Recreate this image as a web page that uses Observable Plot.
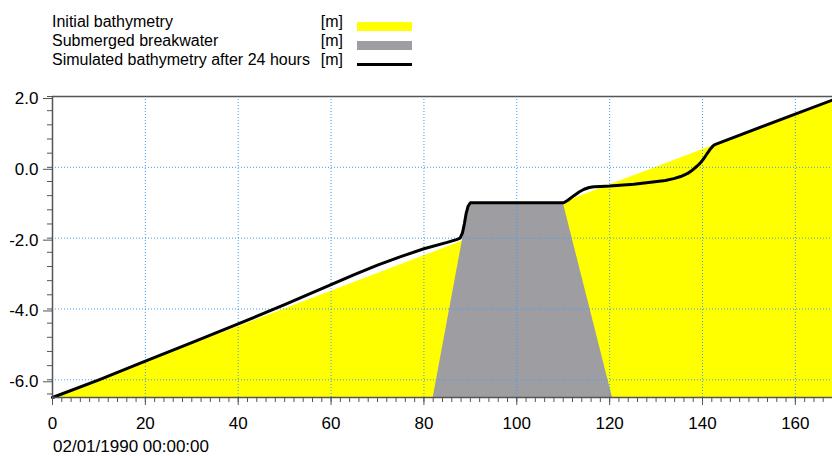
<!DOCTYPE html>
<html>
<head>
<meta charset="utf-8">
<script src="https://cdn.jsdelivr.net/npm/d3@7"></script>
<script src="https://cdn.jsdelivr.net/npm/@observablehq/plot@0.6"></script>
<style>
  html, body { margin: 0; padding: 0; background: #fff; }
  body { width: 832px; height: 456px; position: relative; overflow: hidden;
         font-family: "Liberation Sans", Arial, sans-serif; color: #000; }
  .leg { position: absolute; left: 0; top: 0; width: 832px; height: 80px; }
  .row { position: absolute; left: 0; height: 20px; width: 832px; font-size: 16px; line-height: 20px; }
  .lab { position: absolute; left: 52px; top: 0; white-space: nowrap; }
  .unit { position: absolute; right: calc(832px - 343px); top: 0; white-space: nowrap; }
  .sw { position: absolute; left: 357px; width: 55px; }
  #chart { position: absolute; left: 0; top: 80px; }
  #date { position: absolute; left: 53px; top: 438.5px; height: 15px; font-size: 17px; line-height: 15px; white-space: nowrap; }
</style>
</head>
<body>
<div class="leg" id="legend"></div>
<div id="chart"></div>
<div id="date"></div>
<script>
// ---- data ----
const legendLabels = ["Initial bathymetry", "Submerged breakwater", "Simulated bathymetry after 24 hours"];
const legendUnits = ["[m]", "[m]", "[m]"];
const dateLabel = "02/01/1990 00:00:00";

const xTickValues = [0, 20, 40, 60, 80, 100, 120, 140, 160];
const yTickValues = [-6, -4, -2, 0, 2];
const xDomain = [0, 168];
const yDomain = [-6.5, 2.0];

// initial bathymetry (distance [m], level [m])
const initialX = [0, 168];
const initialZ = [-6.5, 1.9];

// submerged breakwater outline
const breakwaterX = [82, 89.8, 110, 120.6];
const breakwaterZ = [-6.5, -1.0, -1.0, -6.5];

// simulated bathymetry after 24 hours
const simX = [0, 10, 20, 30, 40, 50, 60, 65, 70, 75, 80, 85, 87, 87.8, 88.3, 88.7, 89.1, 89.5, 90.0,
  110.1, 111, 112.3, 113.5, 114.5, 115.6, 116.6, 118, 120, 125.2, 130.2, 132, 133.8, 135.3, 136.7, 137.8,
  138.8, 139.5, 140.3, 141, 141.7, 142.3, 142.8, 168];
const simZ = [-6.5, -6.0, -5.47, -4.95, -4.42, -3.88, -3.31, -3.03, -2.76, -2.52, -2.30, -2.12, -2.04, -2.0, -1.85, -1.6, -1.3, -1.1, -1.0,
  -1.0, -0.93, -0.8, -0.69, -0.62, -0.57, -0.55, -0.54, -0.53, -0.48, -0.40, -0.37, -0.32, -0.26, -0.18, -0.08,
  0.03, 0.12, 0.25, 0.39, 0.52, 0.61, 0.65, 1.9];

// ---- legend ----
const swatches = [
  {bg: "#ffff00", top: 10, h: 9},
  {bg: "#9e9da2", top: 10, h: 9},
  {bg: "#000000", top: 12.8, h: 3}
];
const rowTops = [11.5, 31, 50];
const leg = document.getElementById("legend");
legendLabels.forEach((t, i) => {
  const r = document.createElement("div");
  r.className = "row";
  r.style.top = rowTops[i] + "px";
  const a = document.createElement("span"); a.className = "lab"; a.textContent = t;
  const u = document.createElement("span"); u.className = "unit"; u.textContent = legendUnits[i];
  const s = document.createElement("div"); s.className = "sw";
  s.style.background = swatches[i].bg; s.style.top = swatches[i].top + "px"; s.style.height = swatches[i].h + "px";
  r.append(a, u, s);
  leg.appendChild(r);
});
document.getElementById("date").textContent = dateLabel;

// ---- tables ----
const initial = initialX.map((x, i) => ({x, z: initialZ[i], base: yDomain[0]}));
const breakwater = breakwaterX.map((x, i) => ({x, z: breakwaterZ[i], base: yDomain[0]}));
const sim = simX.map((x, i) => ({x, z: simZ[i]}));
const xMinor = d3.range(xDomain[0], xDomain[1] + 0.001, 2);
const yMinor = d3.range(yDomain[1], yDomain[0] - 0.001, -0.4).map(v => +v.toFixed(1));

const axisColor = "#555";
const gridColor = "#3d9df5";

const chart = Plot.plot({
  width: 832,
  height: 356,
  marginTop: 16,
  marginBottom: 39,
  marginLeft: 52,
  marginRight: 0,
  style: {fontFamily: '"Liberation Sans", Arial, sans-serif', fontSize: "17px", background: "white", color: "black", overflow: "visible"},
  x: {domain: xDomain, label: null},
  y: {domain: yDomain, label: null},
  marks: [
    Plot.areaY(initial, {x: "x", y1: "base", y2: "z", fill: "#ffff00"}),
    Plot.areaY(breakwater, {x: "x", y1: "base", y2: "z", fill: "#9e9da2"}),
    Plot.gridX(xTickValues.filter(v => v > xDomain[0]), {stroke: gridColor, strokeOpacity: 1, strokeWidth: 1, strokeDasharray: "1,2"}),
    Plot.gridY(yTickValues.filter(v => v < yDomain[1]), {stroke: gridColor, strokeOpacity: 1, strokeWidth: 1, strokeDasharray: "1,2"}),
    Plot.line(sim, {x: "x", y: "z", stroke: "#000", strokeWidth: 3, curve: "linear", strokeLinejoin: "round"}),
    Plot.ruleY([yDomain[1]], {stroke: axisColor, strokeWidth: 1.5}),
    Plot.ruleY([yDomain[0]], {stroke: axisColor, strokeWidth: 1.5}),
    Plot.ruleX([xDomain[0]], {stroke: axisColor, strokeWidth: 1.5}),
    Plot.axisX(xMinor, {tickSize: 5, tickFormat: () => "", stroke: axisColor, label: null}),
    Plot.axisX(xTickValues, {tickSize: 8, tickPadding: 11, tickFormat: d => String(d), stroke: axisColor, fill: "#000", fontSize: 17, label: null}),
    Plot.axisY(yMinor, {tickSize: 5, tickFormat: () => "", stroke: axisColor, label: null}),
    Plot.axisY(yTickValues, {tickSize: 9, tickPadding: 5, tickFormat: d => d.toFixed(1), stroke: axisColor, fill: "#000", fontSize: 17, dy: 2, label: null})
  ]
});
document.getElementById("chart").appendChild(chart);
</script>
</body>
</html>
